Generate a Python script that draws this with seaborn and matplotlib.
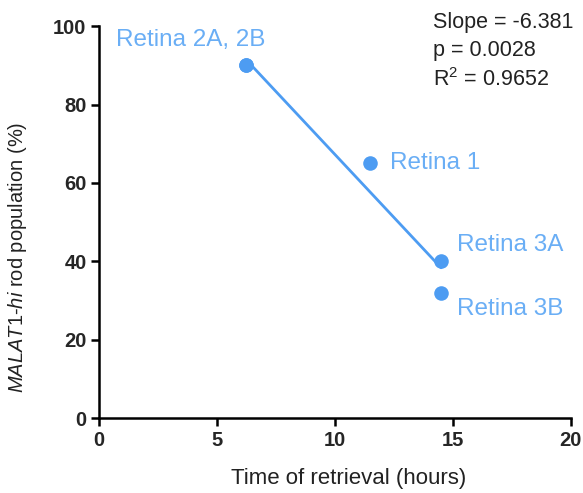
import matplotlib
matplotlib.use("Agg")
import matplotlib.pyplot as plt
import seaborn as sns
import numpy as np
import pandas as pd

# Data
labels = ["Retina 2A, 2B", "Retina 2A, 2B", "Retina 1", "Retina 3A", "Retina 3B"]
hours = [6.25, 6.25, 11.5, 14.5, 14.5]
pct = [90, 90, 65, 40, 32]
x_ticks = [0, 5, 10, 15, 20]
y_ticks = [0, 20, 40, 60, 80, 100]
stats_text = "Slope = -6.381\np = 0.0028\nR$^2$ = 0.9652"

df = pd.DataFrame({"label": labels, "hours": hours, "pct": pct})

sns.set_theme(style="ticks")
plt.rcParams['font.family'] = ['Liberation Sans', 'DejaVu Sans']
plt.rcParams['mathtext.fontset'] = 'custom'
plt.rcParams['mathtext.rm'] = 'Liberation Sans'
plt.rcParams['mathtext.it'] = 'Liberation Sans:italic'

pt_color = "#4d9cf2"
txt_color = "#6aaef5"

fig = plt.figure(figsize=(5.83, 4.93), dpi=100)
ax = fig.add_axes([0.170, 0.152, 0.809, 0.795])

sns.regplot(data=df, x="hours", y="pct", ax=ax, ci=None, scatter=False,
            truncate=True, line_kws=dict(color=pt_color, lw=2))
sns.scatterplot(data=df, x="hours", y="pct", ax=ax, color=pt_color, s=110,
                edgecolor=pt_color, linewidth=0, zorder=5)

ax.set_xlim(0, 20)
ax.set_ylim(0, 100)
ax.set_xticks(x_ticks)
ax.set_yticks(y_ticks)
for t in ax.get_xticklabels() + ax.get_yticklabels():
    t.set_fontweight('bold')
ax.tick_params(axis='both', labelsize=14.5, width=1.8, length=6, color='black', pad=3)
for s in ['left', 'bottom']:
    ax.spines[s].set_linewidth(1.8)
    ax.spines[s].set_color('black')
sns.despine(ax=ax)

ax.set_xlabel("Time of retrieval (hours)", fontsize=16, color='#222222', va='center')
ax.xaxis.set_label_coords(0.53, -0.153)
ax.set_ylabel(r"$\it{MALAT1}$-$\it{hi}$ rod population (%)", fontsize=14.5, color='#222222',
              va='center')
ax.yaxis.set_label_coords(-0.172, 0.41)

# point labels (offsets in points from the data point)
ann = {
    "Retina 2A, 2B": (6.25, 90, -94, 18),
    "Retina 1": (11.5, 65, 14, 0),
    "Retina 3A": (14.5, 40, 11.5, 11.5),
    "Retina 3B": (14.5, 32, 11.5, -11.5),
}
for name, (x, y, dx, dy) in ann.items():
    ax.annotate(name, (x, y), xytext=(dx, dy), textcoords='offset points',
                color=txt_color, fontsize=17.5, va='center', ha='left')

ax.text(0.708, 1.035, stats_text, transform=ax.transAxes, fontsize=15.5, va='top',
        ha='left', color='#222222', linespacing=1.4)

fig.savefig("out.png", dpi=100)
